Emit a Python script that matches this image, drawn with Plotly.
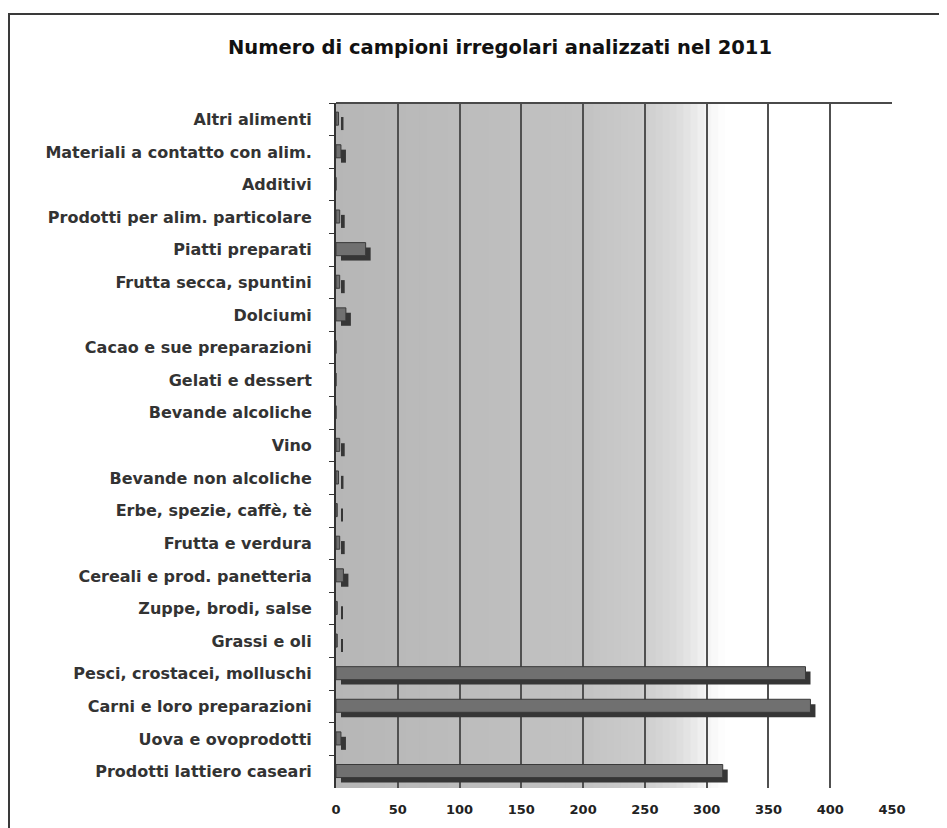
import plotly.graph_objects as go

categories = [
    "Altri alimenti",
    "Materiali a contatto con alim.",
    "Additivi",
    "Prodotti per alim. particolare",
    "Piatti preparati",
    "Frutta secca, spuntini",
    "Dolciumi",
    "Cacao e sue preparazioni",
    "Gelati e dessert",
    "Bevande alcoliche",
    "Vino",
    "Bevande non alcoliche",
    "Erbe, spezie, caffè, tè",
    "Frutta e verdura",
    "Cereali e prod. panetteria",
    "Zuppe, brodi, salse",
    "Grassi e oli",
    "Pesci, crostacei, molluschi",
    "Carni e loro preparazioni",
    "Uova e ovoprodotti",
    "Prodotti lattiero caseari",
]
values = [2, 4, 0, 3, 24, 3, 8, 0, 0, 0, 3, 2, 1, 3, 6, 1, 1, 380, 384, 4, 313]
x_ticks = [0, 50, 100, 150, 200, 250, 300, 350, 400, 450]
title_text = "Numero di campioni irregolari analizzati nel 2011"

# page offset of the figure div (default body margin)
OFF = 8
W, H = 947 - OFF, 828 - OFF
PL, PR, PT, PB = 336, 892, 103, 788          # plot area in page pixels
L, T = PL - OFF, PT - OFF
R, B = (OFF + W) - PR, (OFF + H) - PB
plot_w, plot_h = PR - PL, PB - PT
px_per_unit = plot_w / 450.0
shift_units = 5 / px_per_unit

fig = go.Figure()

# shadow (depth) of the 3D bars
fig.add_trace(go.Bar(
    y=categories, x=values, base=shift_units, orientation="h",
    width=0.4, offset=-0.07,
    marker=dict(color="#363636", line=dict(width=0)),
    hoverinfo="skip", showlegend=False,
))
# front face
fig.add_trace(go.Bar(
    y=categories, x=values, orientation="h",
    width=0.4, offset=-0.22,
    marker=dict(color="#707070", line=dict(color="#3a3a3a", width=1)),
    showlegend=False,
))

# background gradient of the plot area
shapes = []
stops = [(0.0, 0xb6), (0.44, 0xc2), (0.55, 0xcc), (0.62, 0xde), (0.67, 0xf6), (0.70, 0xff), (1.0, 0xff)]


def grad(f):
    for (a, ca), (b, cb) in zip(stops[:-1], stops[1:]):
        if a <= f <= b:
            t = (f - a) / (b - a) if b > a else 0
            return int(round(ca + (cb - ca) * t))
    return 0xff


n = 80
for i in range(n):
    f0, f1 = i / n, (i + 1) / n
    c = grad((f0 + f1) / 2)
    shapes.append(dict(type="rect", xref="x domain", yref="y domain",
                       x0=f0, x1=f1 + 0.002, y0=0, y1=1,
                       fillcolor=f"rgb({c},{c},{c})", line=dict(width=0), layer="below"))
# top border of the plot area
shapes.append(dict(type="line", xref="x domain", yref="y domain", x0=0, x1=1, y0=1, y1=1,
                   line=dict(color="#4a4a4a", width=2)))
# outer frame
shapes.append(dict(type="rect", xref="paper", yref="paper",
                   x0=(9 - PL) / plot_w, x1=(960 - PL) / plot_w,
                   y0=-(840 - PB) / plot_h, y1=1 + (PT - 14) / plot_h,
                   line=dict(color="#3a3a3a", width=2), fillcolor="rgba(0,0,0,0)"))

fig.update_layout(
    width=W, height=H,
    margin=dict(l=L, r=R, t=T, b=B),
    paper_bgcolor="white", plot_bgcolor="rgba(0,0,0,0)",
    barmode="overlay",
    shapes=shapes,
    title=dict(text=title_text, x=(500 - OFF) / W, xref="container", xanchor="center",
               y=1 - (47 - OFF) / H, yref="container", yanchor="middle",
               font=dict(family="DejaVu Sans", size=19.5, color="#111111", weight="bold")),
    xaxis=dict(range=[0, 450], tickvals=x_ticks, ticktext=[str(v) for v in x_ticks],
               showgrid=True, gridcolor="#505050", gridwidth=1.5, zeroline=False,
               showline=False, ticks="", ticklabelstandoff=12,
               tickfont=dict(family="DejaVu Sans", size=13, color="#222222", weight="bold")),
    yaxis=dict(type="category", categoryorder="array", categoryarray=categories,
               autorange="reversed", showgrid=False, zeroline=False,
               showline=True, linecolor="#333333", linewidth=2,
               ticks="outside", ticklen=5, tickcolor="#333333", tickson="boundaries",
               ticklabelstandoff=19,
               tickfont=dict(family="DejaVu Sans", size=16, color="#333333", weight="bold")),
)

fig.write_html("out.html")
